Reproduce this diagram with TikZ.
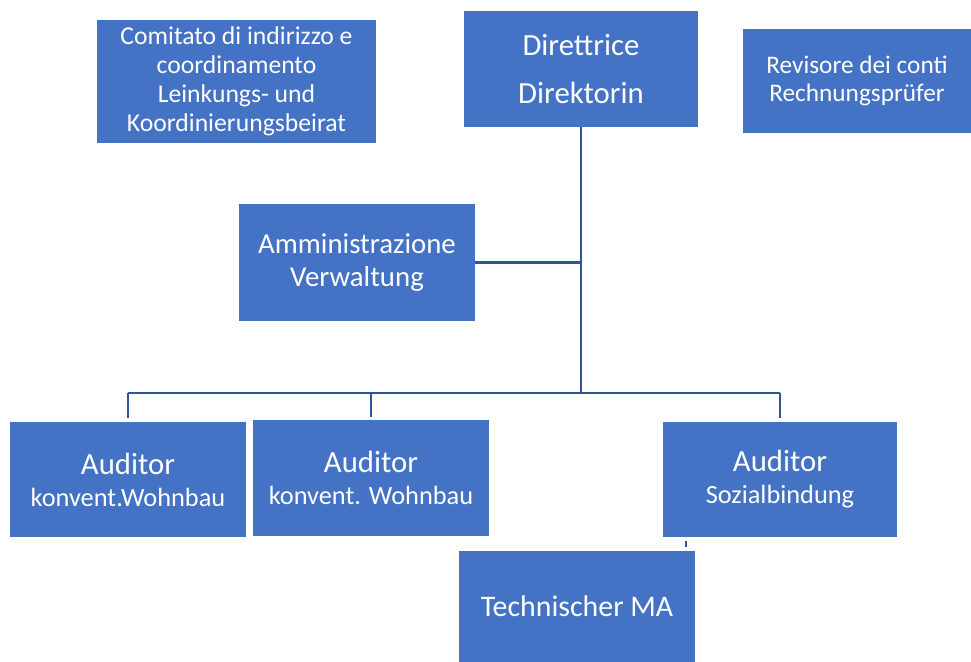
\documentclass[tikz,border=0pt]{standalone}
\usepackage{fontspec}
\setmainfont{Carlito}
\definecolor{boxblue}{HTML}{4472C4}
\definecolor{lineblue}{HTML}{2F5597}
\tikzset{
  box/.style={fill=boxblue,text=white,align=center,inner sep=0pt},
  link/.style={draw=lineblue,line width=1.1pt},
  trunk/.style={draw=lineblue,line width=1.6pt},
}

\begin{document}
\begin{tikzpicture}[x=0.02cm,y=-0.02cm]
			\useasboundingbox (0,0) rectangle (971,662);
			% top row
			\node[box,minimum width=5.58cm,minimum height=2.46cm,font=\fontsize{14.6}{16.4}\selectfont] (com) at (236.5,81.5) {Comitato di indirizzo e\\coordinamento\\Leinkungs- und\\Koordinierungsbeirat};
			\node[box,minimum width=4.68cm,minimum height=2.32cm,font=\fontsize{17.5}{27.8}\selectfont] (dir) at (581,69) {Direttrice\\Direktorin};
			\node[box,minimum width=4.56cm,minimum height=2.08cm,font=\fontsize{14.4}{16}\selectfont] (rev) at (857,81) {Revisore dei conti\\Rechnungsprüfer};
			% staff
			\node[box,minimum width=4.72cm,minimum height=2.34cm,font=\fontsize{16.4}{18.7}\selectfont] (amm) at (357,262.5) {Amministrazione\\Verwaltung};
			% auditors
			\node[box,minimum width=4.72cm,minimum height=2.3cm,font=\fontsize{15}{18.2}\selectfont] (aud1) at (128,479.5) {{\fontsize{17.5}{18}\selectfont Auditor}\\konvent.Wohnbau};
			\node[box,minimum width=4.72cm,minimum height=2.32cm,font=\fontsize{15}{18.2}\selectfont] (aud2) at (371,478) {{\fontsize{17.5}{18}\selectfont Auditor}\\konvent. Wohnbau};
			\node[box,minimum width=4.68cm,minimum height=2.3cm,font=\fontsize{15}{18.2}\selectfont] (aud3) at (780,479.5) {{\fontsize{17.5}{18}\selectfont Auditor}\\Sozialbindung};
			\node[box,minimum width=4.72cm,minimum height=2.22cm,font=\fontsize{17}{20}\selectfont] (tec) at (577,606.5) {Technischer MA};
			% connectors
			\coordinate (bus) at (581,393);
			\draw[trunk] (dir.south) -- (bus);
			\draw[trunk] (amm.east) -- (amm.east -| dir.south);
			\draw[link] (aud1.north |- bus) -- (aud3.north |- bus);
			\draw[trunk] (aud2.north |- bus) -- (bus);
			\draw[link,shorten >=0.08cm] (aud1.north |- bus) -- (aud1.north);
			\draw[link,shorten >=0.06cm] (aud2.north |- bus) -- (aud2.north);
			\draw[link,shorten >=0.08cm] (aud3.north |- bus) -- (aud3.north);
			\draw[link] ([xshift=0.46cm,yshift=-0.08cm]aud3.south west) -- ++(0,6);
		\end{tikzpicture}
\end{document}
